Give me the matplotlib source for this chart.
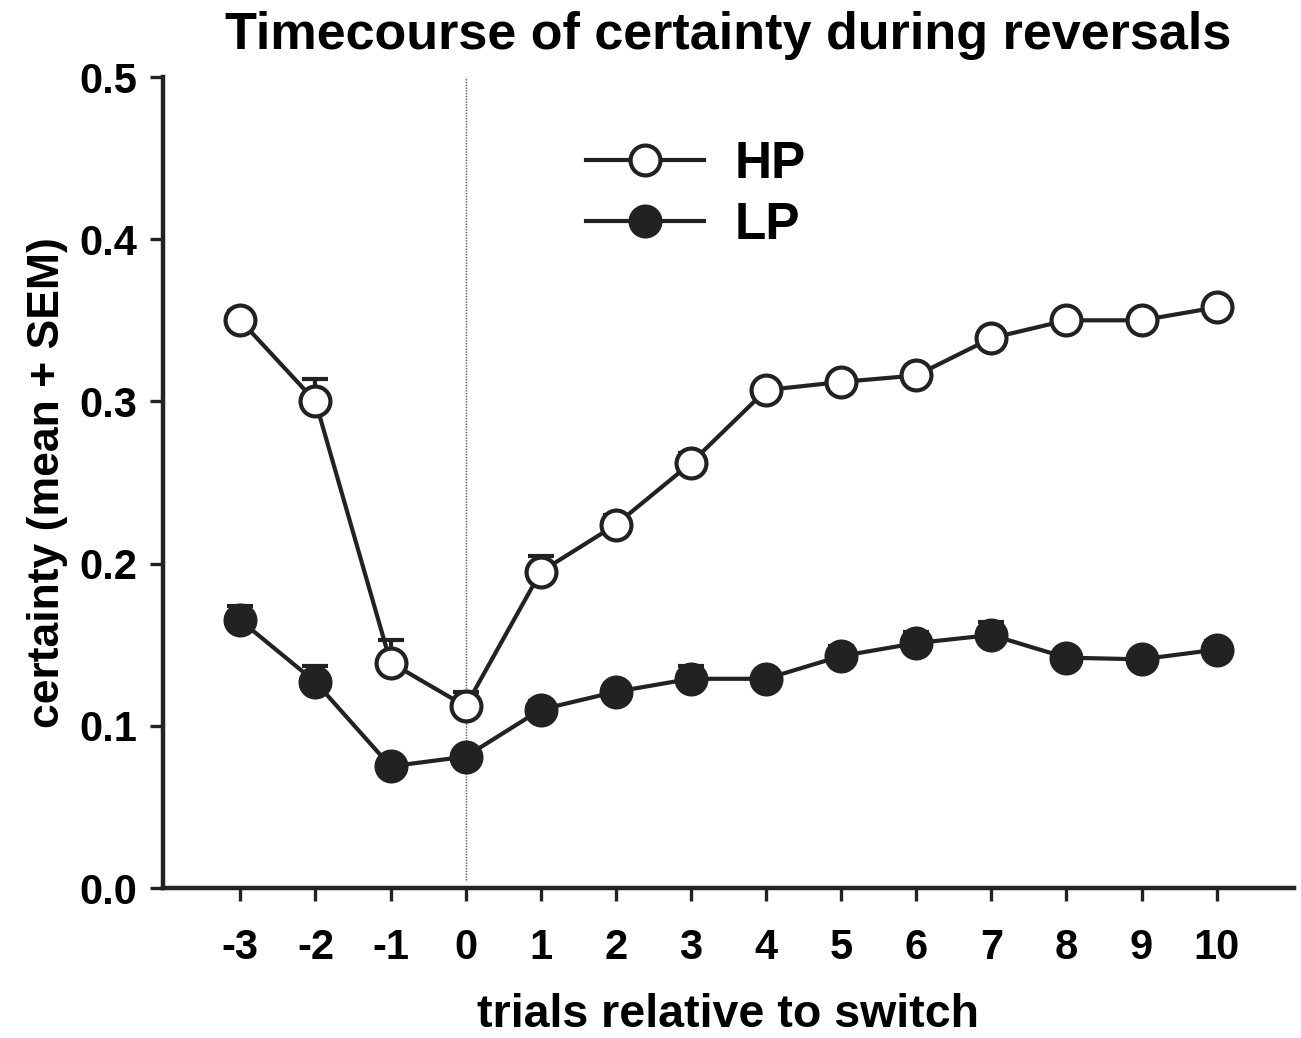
import numpy as np
import matplotlib
matplotlib.use("Agg")
import matplotlib.pyplot as plt

plt.rcParams["font.family"] = ["Liberation Sans", "DejaVu Sans"]
plt.rcParams["font.weight"] = "bold"

trials = [-3, -2, -1, 0, 1, 2, 3, 4, 5, 6, 7, 8, 9, 10]
hp_mean = [0.350, 0.300, 0.139, 0.112, 0.195, 0.224, 0.262, 0.307, 0.312, 0.316,
           0.339, 0.350, 0.350, 0.358]
hp_sem = [0.006, 0.014, 0.014, 0.009, 0.010, 0.006, 0.006, 0.005, 0.005, 0.005,
          0.005, 0.005, 0.005, 0.005]
lp_mean = [0.165, 0.127, 0.075, 0.081, 0.110, 0.121, 0.129, 0.129, 0.143, 0.151,
           0.156, 0.142, 0.141, 0.147]
lp_sem = [0.009, 0.010, 0.004, 0.004, 0.005, 0.005, 0.008, 0.005, 0.006, 0.007,
          0.008, 0.005, 0.005, 0.005]

ink = "#222222"
lw = 3.0
ms = 21.5

fig = plt.figure(figsize=(13.01, 10.38), dpi=100)
ax = fig.add_axes([0.1253, 0.1445, 0.8693, 0.7813])

# dotted line at the switch
ax.vlines(0, 0.005, 0.5, colors="#555555", linestyles=(0, (1, 1)), linewidth=1.0, zorder=1)

for mean, sem in [(hp_mean, hp_sem), (lp_mean, lp_sem)]:
    ax.errorbar(trials, mean, yerr=[np.zeros(len(sem)), sem], fmt="none",
                ecolor=ink, elinewidth=lw, capsize=9.7, capthick=lw, zorder=2)

ax.plot(trials, hp_mean, "-o", color=ink, lw=lw, ms=ms, mfc="white", mec=ink,
        mew=lw, label="HP", zorder=3)
ax.plot(trials, lp_mean, "-o", color=ink, lw=lw, ms=ms, mfc=ink, mec=ink,
        mew=lw, label="LP", zorder=3)

ax.set_xlim(-4.03, 11.03)
ax.set_ylim(0, 0.5)
ax.set_xticks(trials)
ax.set_xticklabels([str(t) for t in trials])
ax.set_yticks([0.0, 0.1, 0.2, 0.3, 0.4, 0.5])
ax.set_yticklabels(["0.0", "0.1", "0.2", "0.3", "0.4", "0.5"])

for s in ["top", "right"]:
    ax.spines[s].set_visible(False)
for s in ["left", "bottom"]:
    ax.spines[s].set_linewidth(3.2)
    ax.spines[s].set_color(ink)

ax.tick_params(axis="x", length=9.5, width=2.4, color=ink, pad=19, labelsize=30)
ax.tick_params(axis="y", length=9.5, width=2.4, color=ink, pad=9, labelsize=30)

ax.set_xlabel("trials relative to switch", fontsize=33.5, fontweight="bold", labelpad=18)
ax.set_ylabel("certainty (mean + SEM)", fontsize=32, fontweight="bold", labelpad=8)
ax.set_title("Timecourse of certainty during reversals", fontsize=37.5,
             fontweight="bold", pad=20)

leg = ax.legend(loc="upper left", bbox_to_anchor=(0.374, 0.922), frameon=False,
                fontsize=37, handlelength=2.3, borderpad=0, borderaxespad=0,
                labelspacing=0.22, handletextpad=0.6)

fig.savefig("out.png", dpi=100)
